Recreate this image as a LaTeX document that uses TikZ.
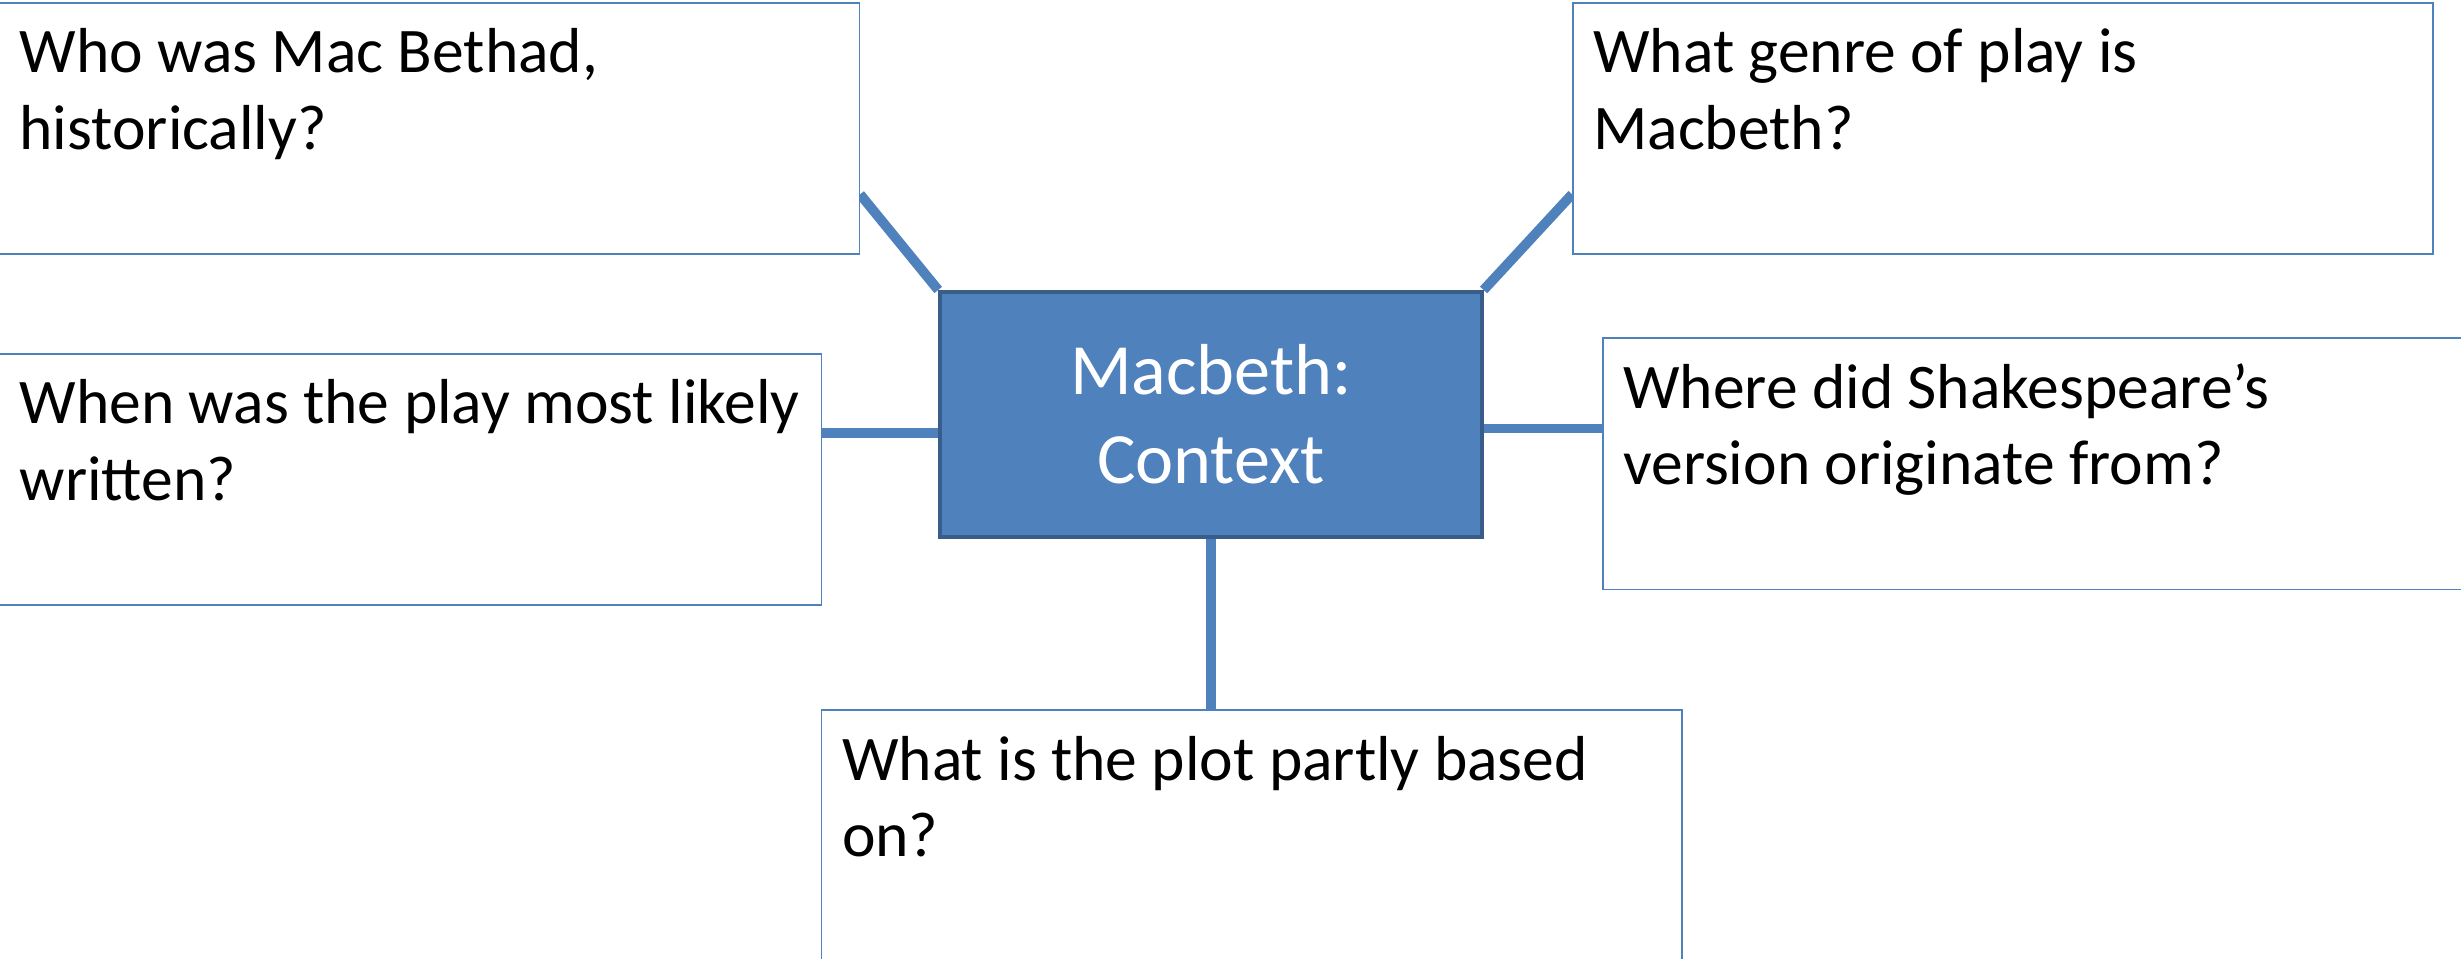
\documentclass[tikz,border=0pt]{standalone}
\usepackage{fontspec}
\setmainfont{Carlito}
\usetikzlibrary{backgrounds}
\definecolor{boxblue}{HTML}{4F81BD}
\definecolor{boxedge}{HTML}{385D8A}
\newcommand{\qtext}[2][104.4mm]{\parbox[t][32mm][t]{#1}{\rule{0pt}{8.9mm}#2}}
\tikzset{qbox/.style={draw=boxblue,fill=white,line width=0.2mm,anchor=north west,
    inner xsep=2.6mm,inner ysep=0pt,font=\fontsize{8.1mm}{9.8mm}\selectfont}}
\tikzset{ctxbox/.style={draw=boxedge,fill=boxblue,line width=0.5mm,minimum width=69mm,
    minimum height=31.2mm,text=white,align=center,font=\fontsize{9.2mm}{11.4mm}\selectfont}}
\tikzset{link/.style={draw=boxblue,line width=1.25mm}}

\begin{document}
\begin{tikzpicture}[x=0.2mm,y=-0.2mm]
    \useasboundingbox (0,0) rectangle (1568,611);
    \clip (0,0) rectangle (1568,611);
    \node[ctxbox] (ctx) at (771.5,264) {Macbeth:\\Context};
    \node[qbox] (who)   at (-1,1.3)      {\qtext{Who was Mac Bethad,\\historically?}};
    \node[qbox] (genre) at (1001.6,1.3)  {\qtext{What genre of play is\\Macbeth?}};
    \node[qbox] (when)  at (-1,225)      {\qtext[99.6mm]{\mbox{When was the play most likely}\\written?}};
    \node[qbox] (where) at (1020.7,215)  {\qtext{Where did Shakespeare’s\\version originate from?}};
    \node[qbox] (plot)  at (523,452)     {\qtext{What is the plot partly based\\on?}};
    \coordinate (l) at ([yshift=-2.4mm]ctx.west);
    \coordinate (r) at ([yshift=-1.8mm]ctx.east);
    \begin{scope}[on background layer]
    \path[link] ([yshift=7.7mm]who.south east) edge (ctx.north west);
    \path[link] ([yshift=7.7mm]genre.south west) edge (ctx.north east);
    \path[link] (l) edge (l -| when.east);
    \path[link] (r) edge (r -| where.west);
    \path[link] (ctx.south) edge (ctx.south |- plot.north);
    \end{scope}
\end{tikzpicture}
\end{document}
